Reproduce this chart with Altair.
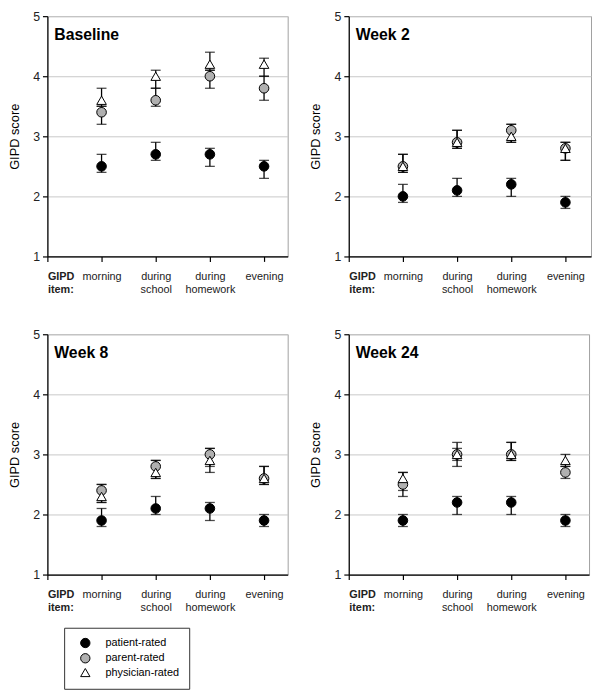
import json
import altair as alt
import pandas as pd

# ---------------- data ----------------
items = ["GIPD item:", "morning", "during school", "during homework", "evening"]
series = ["patient-rated", "parent-rated", "physician-rated"]
panels = ["Baseline", "Week 2", "Week 8", "Week 24"]

# Baseline
base_patient = [2.5, 2.7, 2.7, 2.5]
base_patient_lo = [2.4, 2.6, 2.5, 2.3]
base_patient_hi = [2.7, 2.9, 2.8, 2.6]
base_parent = [3.4, 3.6, 4.0, 3.8]
base_parent_lo = [3.2, 3.5, 3.8, 3.6]
base_parent_hi = [3.5, 3.8, 4.1, 4.0]
base_phys = [3.6, 4.0, 4.2, 4.2]
base_phys_lo = [3.5, 3.8, 4.1, 4.0]
base_phys_hi = [3.8, 4.1, 4.4, 4.3]

# Week 2
w2_patient = [2.0, 2.1, 2.2, 1.9]
w2_patient_lo = [1.9, 2.0, 2.0, 1.8]
w2_patient_hi = [2.2, 2.3, 2.3, 2.0]
w2_parent = [2.5, 2.9, 3.1, 2.8]
w2_parent_lo = [2.4, 2.8, 2.9, 2.6]
w2_parent_hi = [2.7, 3.1, 3.2, 2.9]
w2_phys = [2.5, 2.9, 3.0, 2.8]
w2_phys_lo = [2.4, 2.8, 2.9, 2.6]
w2_phys_hi = [2.7, 3.1, 3.2, 2.9]

# Week 8
w8_patient = [1.9, 2.1, 2.1, 1.9]
w8_patient_lo = [1.8, 2.0, 1.9, 1.8]
w8_patient_hi = [2.1, 2.3, 2.2, 2.0]
w8_parent = [2.4, 2.8, 3.0, 2.6]
w8_parent_lo = [2.2, 2.6, 2.8, 2.5]
w8_parent_hi = [2.5, 2.9, 3.1, 2.8]
w8_phys = [2.3, 2.7, 2.9, 2.6]
w8_phys_lo = [2.2, 2.6, 2.7, 2.5]
w8_phys_hi = [2.5, 2.9, 3.1, 2.8]

# Week 24
w24_patient = [1.9, 2.2, 2.2, 1.9]
w24_patient_lo = [1.8, 2.0, 2.0, 1.8]
w24_patient_hi = [2.0, 2.3, 2.3, 2.0]
w24_parent = [2.5, 3.0, 3.0, 2.7]
w24_parent_lo = [2.3, 2.8, 2.9, 2.6]
w24_parent_hi = [2.7, 3.1, 3.2, 2.8]
w24_phys = [2.6, 3.0, 3.0, 2.9]
w24_phys_lo = [2.4, 2.9, 2.9, 2.8]
w24_phys_hi = [2.7, 3.2, 3.2, 3.0]

panel_data = [
    [(base_patient, base_patient_lo, base_patient_hi),
     (base_parent, base_parent_lo, base_parent_hi),
     (base_phys, base_phys_lo, base_phys_hi)],
    [(w2_patient, w2_patient_lo, w2_patient_hi),
     (w2_parent, w2_parent_lo, w2_parent_hi),
     (w2_phys, w2_phys_lo, w2_phys_hi)],
    [(w8_patient, w8_patient_lo, w8_patient_hi),
     (w8_parent, w8_parent_lo, w8_parent_hi),
     (w8_phys, w8_phys_lo, w8_phys_hi)],
    [(w24_patient, w24_patient_lo, w24_patient_hi),
     (w24_parent, w24_parent_lo, w24_parent_hi),
     (w24_phys, w24_phys_lo, w24_phys_hi)],
]

FONT = "Liberation Sans"
GREY = "#b0b0b0"


def make_frame(groups):
    rows = []
    for k, (s, (m, lo, hi)) in enumerate(zip(series, groups)):
        for i in range(4):
            rows.append({"x": i + 1, "series": s, "mean": m[i],
                         "lo": lo[i], "hi": hi[i], "ord": k})
    return pd.DataFrame(rows)


label_expr = ("split(" + json.dumps(items).replace('"', "'")
              + "[datum.value], ' ')")


def panel(idx, width, height=244):
    df = make_frame(panel_data[idx])
    xmax = width / 55.0
    x_enc = alt.X(
        "x:Q",
        scale=alt.Scale(domain=[0, xmax], nice=False, zero=False),
        axis=alt.Axis(
            values=[0, 1, 2, 3, 4], labelExpr=label_expr, title=None,
            grid=False, tickSize=5, labelPadding=9, labelFontSize=11,
            labelLineHeight=13.5, labelBaseline="top",
            labelOverlap=False, labelFlush=False, labelBound=False,
            labelFontWeight={"condition": {"test": "datum.value == 0", "value": "bold"}, "value": "normal"},
            labelAlign={"condition": {"test": "datum.value == 0", "value": "left"}, "value": "center"},
        ),
    )
    y_scale = alt.Scale(domain=[1, 5], nice=False, zero=False)
    y_axis = alt.Axis(values=[1, 2, 3, 4, 5], grid=True, tickSize=5,
                      labelPadding=3, labelFontSize=12.5, titleFontSize=13,
                      titleFontWeight="normal", titlePadding=11.5)
    base = alt.Chart(df)
    rules = base.mark_rule(color="black", strokeWidth=1.3).encode(
        x=x_enc,
        y=alt.Y("lo:Q", scale=y_scale, axis=y_axis, title="GIPD score"),
        y2="hi:Q",
    )
    tick_lo = base.mark_tick(orient="horizontal", size=10, thickness=1.3,
                             color="black").encode(
        x=x_enc, y=alt.Y("lo:Q", scale=y_scale, axis=y_axis, title="GIPD score"))
    tick_hi = base.mark_tick(orient="horizontal", size=10, thickness=1.3,
                             color="black").encode(
        x=x_enc, y=alt.Y("hi:Q", scale=y_scale, axis=y_axis, title="GIPD score"))
    leg = alt.Legend(
        orient="none", legendX=17, legendY=621, title=None,
        strokeColor="#333", padding=10, fillColor="white",
        labelFontSize=11, labelFont=FONT, labelColor="black",
        symbolSize=90, symbolStrokeColor="black", symbolStrokeWidth=1,
        symbolOffset=6, rowPadding=0.5, labelOffset=15, offset=0,
    )
    pts = base.mark_point(filled=True, stroke="black", strokeWidth=1,
                          size=95, opacity=1).encode(
        x=x_enc,
        y=alt.Y("mean:Q", scale=y_scale, axis=y_axis, title="GIPD score"),
        shape=alt.Shape("series:N", scale=alt.Scale(
            domain=series, range=["circle", "circle", "triangle-up"]), legend=leg),
        fill=alt.Fill("series:N", scale=alt.Scale(
            domain=series, range=["black", GREY, "white"]), legend=leg),
        stroke=alt.Stroke("series:N", scale=alt.Scale(
            domain=series, range=["black", "black", "black"]), legend=leg),
        order=alt.Order("ord:Q"),
    )
    title = alt.Chart(pd.DataFrame({"t": [panels[idx]]})).mark_text(
        align="left", baseline="alphabetic", fontSize=16, fontWeight="bold",
        font=FONT, color="black",
    ).encode(x=alt.value(7), y=alt.value(24), text="t:N")
    return alt.layer(rules, tick_lo, tick_hi, pts, title).properties(
        width=width, height=height)


top = alt.hconcat(panel(0, 244), panel(1, 246), spacing=21)
bottom = alt.hconcat(panel(2, 244), panel(3, 244), spacing=21)

chart = alt.vconcat(top, bottom, spacing=33).properties(
    padding={"left": 0, "top": -4, "right": 0, "bottom": 0},
    background="white",
).configure(font=FONT).configure_view(
    stroke="#a0a0a0", strokeWidth=1
).configure_axis(
    domainColor="black", domainWidth=1.2, tickColor="black", tickWidth=1.2,
    gridColor="#c8c8c8", gridWidth=1, labelColor="#222", titleColor="black",
    labelFont=FONT, titleFont=FONT,
)

chart.save("out.html", embed_options={"renderer": "svg", "actions": False})
